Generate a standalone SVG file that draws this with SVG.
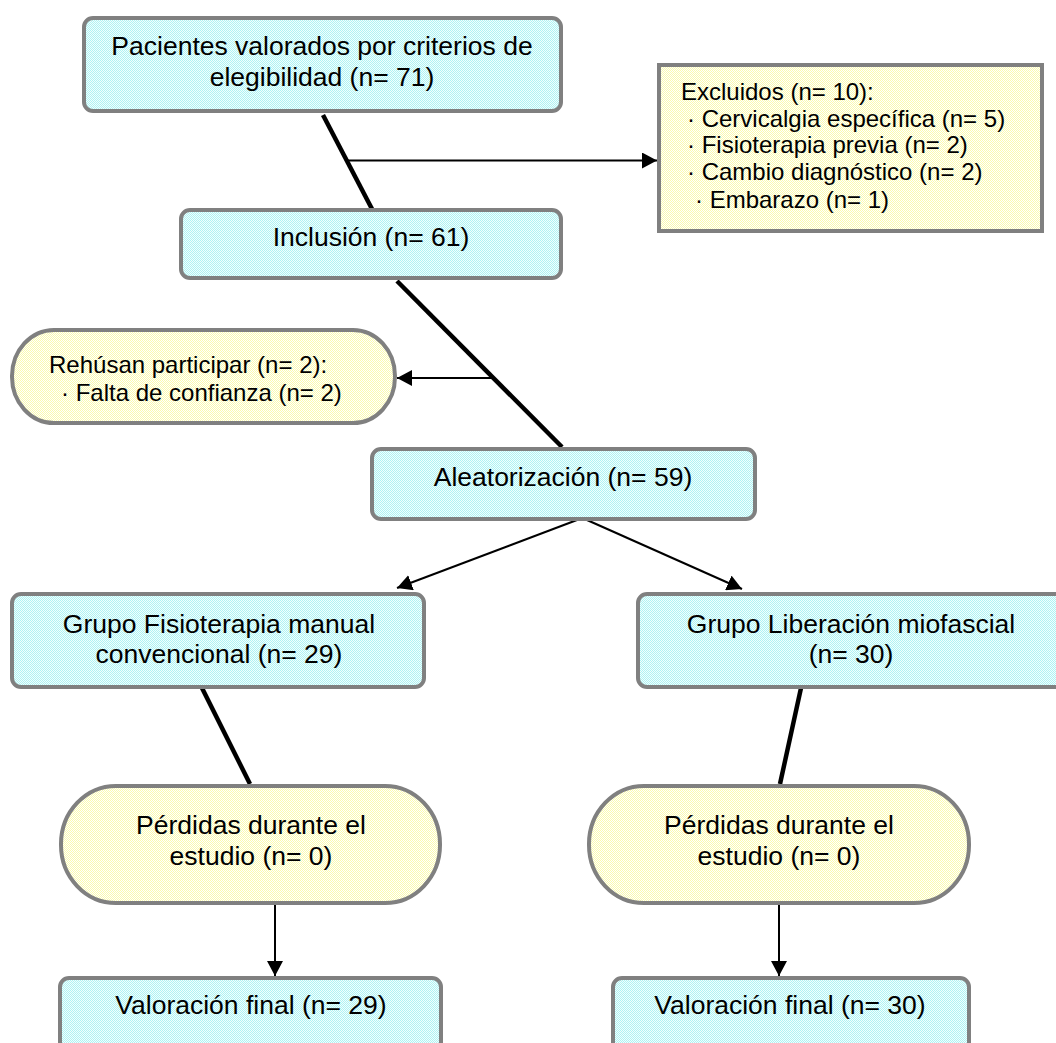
<svg xmlns="http://www.w3.org/2000/svg" width="1056" height="1043" viewBox="0 0 1056 1043">
  <style>
    .box { fill: url(#cyanDots); stroke: #808080; stroke-width: 4; }
    .ybox { fill: url(#yellowDots); stroke: #808080; stroke-width: 4; }
    .t { font-family: "Liberation Sans", Arial, sans-serif; font-size: 26.5px; fill: #000; text-anchor: middle; }
    .s { font-family: "Liberation Sans", Arial, sans-serif; font-size: 24px; fill: #000; }
    .thick { stroke: #000; stroke-width: 4.5; fill: none; }
    .thin { stroke: #000; stroke-width: 2; fill: none; marker-end: url(#arrow); }
  </style>
  <defs>
    <pattern id="cyanDots" width="2" height="2" patternUnits="userSpaceOnUse">
      <rect width="2" height="2" fill="#f0ffff"/>
      <rect x="0" y="0" width="1" height="1" fill="#b0f2f2"/>
      <rect x="1" y="1" width="1" height="1" fill="#b0f2f2"/>
    </pattern>
    <pattern id="yellowDots" width="2" height="2" patternUnits="userSpaceOnUse">
      <rect width="2" height="2" fill="#ffffff"/>
      <rect x="0" y="0" width="1" height="1" fill="#fbfbae"/>
      <rect x="1" y="1" width="1" height="1" fill="#fbfbae"/>
    </pattern>
    <marker id="arrow" markerUnits="userSpaceOnUse" markerWidth="16" markerHeight="16" refX="15" refY="8" orient="auto">
      <path d="M0,0 L15,8 L0,16 z" fill="#000"/>
    </marker>
  </defs>
  <rect width="1056" height="1043" fill="#ffffff"/>

  <g id="connectors">
    <line class="thick" x1="323" y1="115" x2="372" y2="209"/>
    <line class="thin" x1="347" y1="160.5" x2="657" y2="160.5"/>
    <line class="thick" x1="397" y1="281" x2="562" y2="447"/>
    <line class="thin" x1="493" y1="378" x2="397" y2="378"/>
    <line class="thin" x1="577" y1="520" x2="397" y2="588"/>
    <line class="thin" x1="587" y1="520" x2="742" y2="589"/>
    <line class="thick" x1="202" y1="688" x2="250" y2="784"/>
    <line class="thick" x1="801" y1="688" x2="780" y2="784"/>
    <line class="thin" x1="275" y1="905" x2="275" y2="976"/>
    <line class="thin" x1="779" y1="905" x2="779" y2="976"/>
  </g>

  <g id="pacientes">
    <rect class="box" x="84" y="18" width="477" height="93" rx="9" ry="9"/>
    <text class="t" x="322" y="55">Pacientes valorados por criterios de</text>
    <text class="t" x="322" y="86">elegibilidad (n= 71)</text>
  </g>

  <g id="excluidos">
    <rect class="ybox" x="659" y="65" width="383" height="166"/>
    <text class="s" x="681" y="100">Excluidos (n= 10):</text>
    <text class="s" x="687" y="127">· Cervicalgia específica (n= 5)</text>
    <text class="s" x="687" y="153">· Fisioterapia previa (n= 2)</text>
    <text class="s" x="687" y="180">· Cambio diagnóstico (n= 2)</text>
    <text class="s" x="695" y="208">· Embarazo (n= 1)</text>
  </g>

  <g id="inclusion">
    <rect class="box" x="181" y="210" width="380" height="68" rx="9" ry="9"/>
    <text class="t" x="371" y="246">Inclusión (n= 61)</text>
  </g>

  <g id="rehusan">
    <rect class="ybox" x="12" y="330" width="383" height="93" rx="42" ry="46"/>
    <text class="s" x="49" y="373">Rehúsan participar (n= 2):</text>
    <text class="s" x="61" y="401">· Falta de confianza (n= 2)</text>
  </g>

  <g id="aleatorizacion">
    <rect class="box" x="372" y="449" width="383" height="70" rx="9" ry="9"/>
    <text class="t" x="563" y="486">Aleatorización (n= 59)</text>
  </g>

  <g id="grupo-fisioterapia">
    <rect class="box" x="12" y="594" width="412" height="93" rx="9" ry="9"/>
    <text class="t" x="219" y="633">Grupo Fisioterapia manual</text>
    <text class="t" x="219" y="663">convencional (n= 29)</text>
  </g>

  <g id="grupo-liberacion">
    <rect class="box" x="638" y="594" width="426" height="93" rx="9" ry="9"/>
    <text class="t" x="851" y="633">Grupo Liberación miofascial</text>
    <text class="t" x="851" y="663">(n= 30)</text>
  </g>

  <g id="perdidas-izq">
    <rect class="ybox" x="61" y="786" width="379" height="117" rx="55" ry="58"/>
    <text class="t" x="251" y="834">Pérdidas durante el</text>
    <text class="t" x="251" y="865">estudio (n= 0)</text>
  </g>

  <g id="perdidas-der">
    <rect class="ybox" x="589" y="786" width="380" height="117" rx="55" ry="58"/>
    <text class="t" x="779" y="834">Pérdidas durante el</text>
    <text class="t" x="779" y="865">estudio (n= 0)</text>
  </g>

  <g id="valoracion-izq">
    <rect class="box" x="60" y="978" width="381" height="80" rx="9" ry="9"/>
    <text class="t" x="251" y="1014">Valoración final (n= 29)</text>
  </g>

  <g id="valoracion-der">
    <rect class="box" x="613" y="978" width="356" height="80" rx="9" ry="9"/>
    <text class="t" x="790" y="1014">Valoración final (n= 30)</text>
  </g>
</svg>
